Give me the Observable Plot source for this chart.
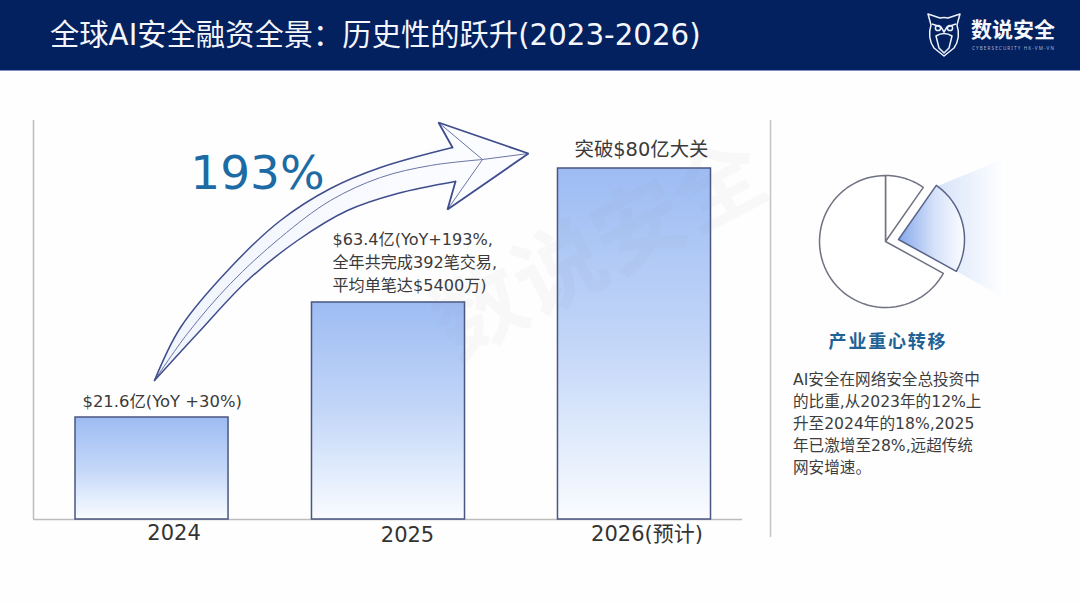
<!DOCTYPE html>
<html lang="zh-CN"><head><meta charset="utf-8">
<script src="https://cdn.jsdelivr.net/npm/d3@7"></script>
<script src="https://cdn.jsdelivr.net/npm/@observablehq/plot@0.6"></script>
<style>
html,body{margin:0;padding:0;background:#fff;width:1080px;height:602px;overflow:hidden;font-family:"DejaVu Sans","Noto Sans CJK SC",sans-serif}
#head{position:relative;height:70px;background:#03205f;border-bottom:1px solid #8090c4;box-sizing:content-box}
#title{position:absolute;left:50px;top:15px;color:#f4f6fb;font-size:29.3px;line-height:40px;white-space:nowrap}
#logo{position:absolute;left:926px;top:13px}
#wrap{position:relative;width:1080px;height:531px;background:#fefefe}
#wrap svg{position:absolute;left:0;top:0;background:transparent}
#note{position:absolute;left:793px;top:298px;width:200px;font-size:15.6px;line-height:22px;color:#3d3d3d;white-space:pre}
#focus{position:absolute;left:788px;top:256px;width:200px;text-align:center;font-size:18px;font-weight:700;letter-spacing:1.8px;color:#1f6296;font-family:"Noto Sans CJK SC"}
</style></head><body>
<div id="head">
<div id="title">全球AI安全融资全景：历史性的跃升(2023-2026)</div>
<svg id="logo" width="134" height="48" viewBox="0 0 134 48" fill="none" stroke="#eef2fb" stroke-width="1.5" stroke-linejoin="round">
<path d="M2 1 L14 5 Q18 4 22 5 L34 1 L31 12 Q35 25 28 35 L18 43 L8 35 Q1 25 5 12 Z"/>
<path d="M6 11 L15 14 L18 19 L21 14 L30 11 M10 23 Q18 18 26 23 L23 35 L18 40 L13 35 Z"/>
<circle cx="12" cy="15" r="2.6"/><circle cx="24" cy="15" r="2.6"/>
<text x="45" y="24" fill="#f6f8fd" stroke="none" font-size="21" font-weight="700" textLength="84" font-family="Noto Sans CJK SC">数说安全</text>
<text x="46" y="37" fill="#aab6d6" stroke="none" font-size="4.6" textLength="82" font-family="Noto Sans">CYBERSECURITY HK-VM-VN</text>
</svg>
</div>
<div id="wrap"></div>
<script>
// Chart values
const years = ["2024", "2025", "2026"];
const yearLabels = ["2024", "2025", "2026(预计)"];
const funding = [21.6, 63.4, 80];
const barLabels = ["$21.6亿(YoY +30%)", "$63.4亿(YoY+193%,\n全年共完成392笔交易,\n平均单笔达$5400万)", "突破$80亿大关"];
const growthLabel = "193%";
const noteLines = ["AI安全在网络安全总投资中", "的比重,从2023年的12%上", "升至2024年的18%,2025", "年已激增至28%,远超传统", "网安增速。"];
// Pie: share of the whole, clockwise from 12 o'clock (the middle slice is pulled out)
const pieShares = [9.7, 23.3, 67];
// Placement details, apart from the values
const barNudge = [0, -4.5, 0.5];
const labelDx = [-69.5, -60.5, -59.5];
const labelDy = [-11, -12, -13];
const labelSize = [16.4, 16.1, 19.4];
const tickDx = [22, 14.5, 13];
const tickDy = [14, 16, 15];
// Hand-drawn growth arrow
const upperX = [154, 180, 230, 280, 330, 380, 452];
const upperY = [380, 327, 267, 220, 188, 167, 147];
const lowerX = [154, 197, 247, 297, 347, 397, 455];
const lowerY = [380, 333, 280, 240, 210, 193, 181];
const centerX = [154, 187, 230, 280, 330, 380, 430, 482];
const centerY = [380, 333, 283, 237, 200, 177, 165, 159];
const headX = [452, 438, 528, 447, 455];
const headY = [147, 122, 153, 209, 181];
const barbX = [438, 482, 447];
const barbY = [122, 159, 209];
const shaftX = [482, 528];
const shaftY = [159, 153];

const rows = years.map((y, i) => ({year: y, label: yearLabels[i], value: funding[i], text: barLabels[i], i}));
const ink = "#4a5680";

function defs() {
  const s = d3.create("svg:defs");
  const g = (id, x2, y2, stops) => {
    const n = s.append("svg:linearGradient").attr("id", id).attr("x1", 0).attr("y1", 0).attr("x2", x2).attr("y2", y2);
    stops.forEach(([o, c]) => n.append("svg:stop").attr("offset", o).attr("stop-color", c));
  };
  g("barFill", 0, 1, [[0, "#9dbcf3"], [0.5, "#c3d6f8"], [0.8, "#e3edfc"], [1, "#fafcff"]]);
  g("beamFill", 1, 0, [[0, "#b4c9f4"], [0.45, "#dde7fa"], [1, "#ffffff"]]);
  g("sliceFill", 1, 0, [[0, "#86a9ec"], [0.55, "#d6e2f9"], [1, "#fbfcff"]]);
  g("arrowFill", 1, 0, [[0, "#f0f4fc"], [1, "#fbfcff"]]);
  return s.node();
}

const main = Plot.plot({
  width: 1080, height: 531, margin: 0, marginLeft: 33, marginRight: 338,
  style: {background: "transparent", fontFamily: '"DejaVu Sans", "Noto Sans CJK SC"'},
  x: {type: "band", domain: years, range: [75, 710], paddingInner: 0.365, paddingOuter: 0, round: false, axis: null},
  y: {type: "linear", domain: [0, 21.6, 63.4, 80], range: [448, 346, 231, 97], axis: null},
  marks: [
    defs,
    Plot.ruleY([0], {stroke: "#bdbdbd", strokeWidth: 1.5}),
    ...rows.map(r => Plot.barY([r], {x: "year", y: "value", dx: barNudge[r.i], fill: "url(#barFill)", stroke: ink, strokeWidth: 1.5})),
    ...rows.map(r => Plot.text([r], {x: "year", y: "value", text: "text", textAnchor: "start", lineAnchor: "bottom", dx: labelDx[r.i], dy: labelDy[r.i], fontSize: labelSize[r.i], lineHeight: 1.42, fill: "#3a3a3a"})),
    ...rows.map(r => Plot.text([r], {x: "year", y: () => 0, text: "label", dx: tickDx[r.i], dy: tickDy[r.i], fontSize: 21, fill: "#333"}))
  ]
});

// Overlay annotations: the arrow, the frame rules and the pie, all in one shared plane
const pts = (xs, ys, id) => xs.map((x, i) => ({x, y: ys[i], id}));
const pie = [];
const cx = 885, cy = 241, r = 66, pullX = 13, pullY = -2;
let acc = 0;
pieShares.forEach((share, k) => {
  const a0 = acc / 100 * 2 * Math.PI, a1 = (acc + share) / 100 * 2 * Math.PI;
  acc += share;
  const ox = k === 1 ? pullX : 0, oy = k === 1 ? pullY : 0;
  pie.push({x: cx + ox, y: cy + oy, k});
  d3.range(0, 61).forEach(t => {
    const a = a0 + (a1 - a0) * t / 60;
    pie.push({x: cx + ox + r * Math.sin(a), y: cy + oy - r * Math.cos(a), k});
  });
  pie.push({x: cx + ox, y: cy + oy, k});
});
const beam = [{x: cx + pullX, y: cy + pullY}, {x: 936, y: 186}, {x: 1004, y: 158}, {x: 1004, y: 298}, {x: 955, y: 270}];

const arrowBody = [...pts(upperX, upperY, "b"), ...pts([...lowerX].reverse(), [...lowerY].reverse(), "b")];
const arrowHead = pts(headX, headY, "h");

const overlay = Plot.plot({
  width: 1080, height: 531, margin: 0,
  style: {background: "transparent", fontFamily: '"DejaVu Sans", "Noto Sans CJK SC"'},
  x: {type: "linear", domain: [0, 1080], range: [0, 1080], axis: null},
  y: {type: "linear", domain: [71, 602], range: [0, 531], axis: null},
  marks: [
    Plot.text(["数说安全"], {x: () => 600, y: () => 250, rotate: -28, fontSize: 90, fontWeight: 700, fill: "#8a93a8", fillOpacity: 0.055, fontFamily: "Noto Sans CJK SC"}),
    Plot.ruleX([33], {y1: 120, y2: 519, stroke: "#bdbdbd", strokeWidth: 1.5}),
    Plot.ruleX([770], {y1: 120, y2: 537, stroke: "#c4c4c4", strokeWidth: 1.5}),
    Plot.line(arrowBody, {x: "x", y: "y", fill: "url(#arrowFill)", stroke: "none", curve: "catmull-rom"}),
    Plot.line(arrowHead, {x: "x", y: "y", fill: "#fbfcff", stroke: "none"}),
    Plot.line(pts(centerX, centerY, "c"), {x: "x", y: "y", stroke: "#6a75a3", strokeWidth: 1, curve: "catmull-rom"}),
    Plot.line(pts(barbX, barbY, "b"), {x: "x", y: "y", stroke: "#6a75a3", strokeWidth: 1}),
    Plot.line(pts(shaftX, shaftY, "s"), {x: "x", y: "y", stroke: "#6a75a3", strokeWidth: 1}),
    Plot.line(pts(upperX, upperY, "u"), {x: "x", y: "y", stroke: "#3f4d8c", strokeWidth: 1.5, curve: "catmull-rom"}),
    Plot.line(pts(lowerX, lowerY, "l"), {x: "x", y: "y", stroke: "#3f4d8c", strokeWidth: 1.5, curve: "catmull-rom"}),
    Plot.line(arrowHead, {x: "x", y: "y", stroke: "#3f4d8c", strokeWidth: 1.8, strokeLinejoin: "miter"}),
    Plot.text([growthLabel], {x: () => 257, y: () => 173, fontSize: 47, fill: "#1c6ba4"}),
    Plot.line(beam, {x: "x", y: "y", fill: "url(#beamFill)", stroke: "none"}),
    Plot.line(pie.filter(d => d.k !== 1), {x: "x", y: "y", z: "k", fill: "#ffffff", stroke: "#6f7280", strokeWidth: 1.5}),
    Plot.line(pie.filter(d => d.k === 1), {x: "x", y: "y", z: "k", fill: "url(#sliceFill)", stroke: "#5a6488", strokeWidth: 1.5})
  ]
});

const wrap = document.getElementById("wrap");
wrap.append(main, overlay);
const focus = document.createElement("div"); focus.id = "focus"; focus.textContent = "产业重心转移";
const note = document.createElement("div"); note.id = "note";
note.textContent = noteLines.join("\n");
wrap.append(focus, note);
</script>
</body></html>
